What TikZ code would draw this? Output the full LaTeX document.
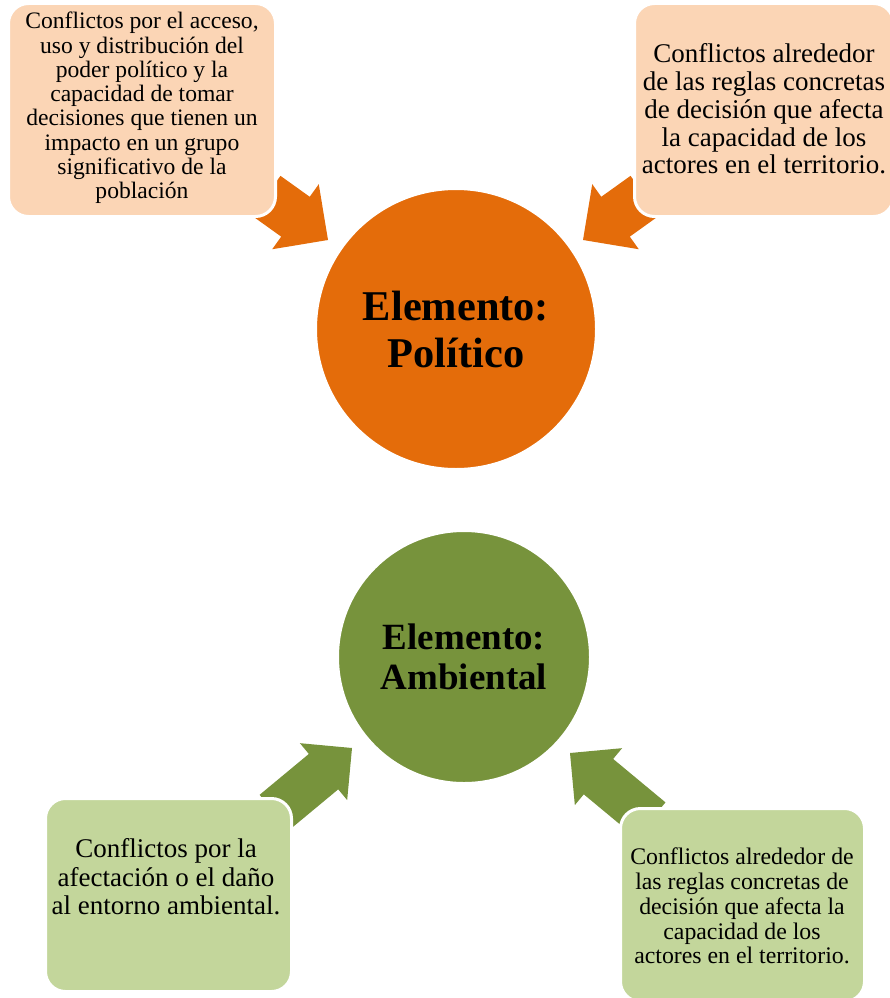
\documentclass[tikz,border=0pt]{standalone}
\usepackage{fontspec}
\setmainfont{Liberation Serif}
\definecolor{orangeC}{HTML}{E46C0A}
\definecolor{peach}{HTML}{FBD5B5}
\definecolor{oliveC}{HTML}{77933C}
\definecolor{lightgreen}{HTML}{C3D69B}
\newcommand{\blkarrow}[7]{\fill[#1, shift={(#2)}, rotate=#3] (0,0) -- (-#5,#6) -- (-#5,#7) -- (-#4,#7) -- (-#4,-#7) -- (-#5,-#7) -- (-#5,-#6) -- cycle;}
\begin{document}
\begin{tikzpicture}[x=1pt,y=1pt,
  box/.style={draw=white, line width=3pt, rounded corners=20pt, inner sep=0pt},
  boxtext/.style={align=center, inner sep=0pt, text=black},
  circ/.style={circle, draw=white, line width=2pt, inner sep=0pt, align=center, text=black}
]
\useasboundingbox (0,0) rectangle (890,-998);
\clip (0,0) rectangle (890,-998);

% circles
\node[circ, fill=orangeC, minimum size=280pt, font=\bfseries\fontsize{42.4}{47}\selectfont] (pol) at (456,-329) {Elemento:\\Político};
\node[circ, fill=oliveC, minimum size=252pt, font=\bfseries\fontsize{37}{40.5}\selectfont] (amb) at (464,-657) {Elemento:\\Ambiental};

% arrow tips
\coordinate (a1) at (328,-240);
\coordinate (a2) at (583,-240);
\coordinate (a3) at (352,-748);
\coordinate (a4) at (570,-753);
\blkarrow{orangeC}{a1}{-35.6}{76}{40}{40}{24.5}
\blkarrow{orangeC}{a2}{215.6}{76}{40}{40}{24.5}
\blkarrow{oliveC}{a3}{39.7}{101}{37}{37}{23}
\blkarrow{oliveC}{a4}{140.3}{105}{37}{37}{23}

% boxes
\node[box, fill=peach, minimum width=267pt, minimum height=213pt] (b1) at (142,-110) {};
\node[boxtext, font=\fontsize{23.6}{24.3}\selectfont] (t1) at (142,-108) {Conflictos por el acceso,\\uso y distribución del\\poder político y la\\capacidad de tomar\\decisiones que tienen un\\impacto en un grupo\\significativo de la\\población};

\node[box, fill=peach, minimum width=259pt, minimum height=213pt] (b2) at (764,-110) {};
\node[boxtext, font=\fontsize{27}{27.8}\selectfont] (t2) at (764,-109) {Conflictos alrededor\\de las reglas concretas\\de decisión que afecta\\la capacidad de los\\actores en el territorio.};

\node[box, fill=lightgreen, minimum width=246pt, minimum height=193pt] (b3) at (168.5,-895) {};
\node[boxtext, font=\fontsize{27}{28.5}\selectfont] (t3) at (166,-877) {Conflictos por la\\afectación o el daño\\al entorno ambiental.};

\node[box, fill=lightgreen, minimum width=244pt, minimum height=193pt] (b4) at (742.5,-905) {};
\node[boxtext, font=\fontsize{23.8}{24.8}\selectfont] (t4) at (742,-906) {Conflictos alrededor de\\las reglas concretas de\\decisión que afecta la\\capacidad de los\\actores en el territorio.};
\end{tikzpicture}
\end{document}
